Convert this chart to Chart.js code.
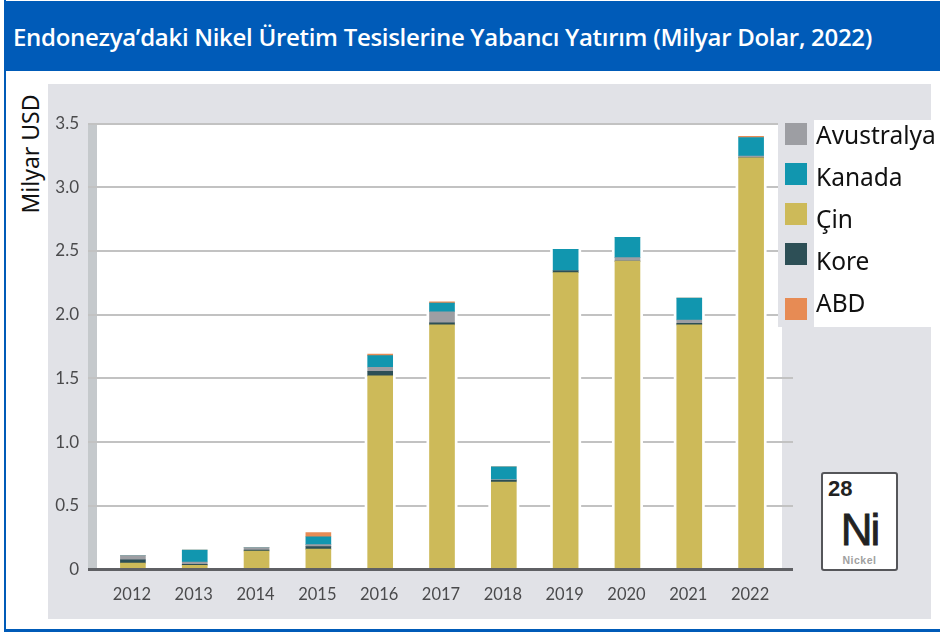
<!DOCTYPE html>
<html lang="tr">
<head>
<meta charset="utf-8">
<title>Endonezya Nikel Yatırım</title>
<script src="https://cdn.jsdelivr.net/npm/chart.js@4"></script>
<style>
  html, body { margin: 0; padding: 0; background: #fff; }
  #page { position: relative; width: 940px; height: 632px; overflow: hidden; background: #fff; }
  #page div { position: absolute; }
  #sol-cizgi { left: 4px; top: 0; width: 2px; height: 632px; background: #005bb8; }
  #alt-cizgi { left: 4px; top: 629px; width: 936px; height: 3px; background: #005bb8; }
  #baslik { left: 4px; top: 1px; width: 936px; height: 70px; background: #005bb8; color: #fff;
            font: 600 24px/72px "Open Sans", sans-serif; letter-spacing: -0.3px; padding-left: 9px; box-sizing: border-box; white-space: nowrap; }
  #panel { left: 48px; top: 84px; width: 883px; height: 535px; background: #e1e2e7; }
  #beyaz { left: 88px; top: 123px; width: 694px; height: 446px; background: #fff; }
  #serit { left: 88px; top: 123px; width: 9px; height: 446px; background: #c5c9cc; }
  #eksen { left: 30px; top: 154px; transform: translate(-50%, -50%) rotate(-90deg); color: #111;
           font: 23px "Noto Sans", sans-serif; white-space: nowrap; }
  canvas { position: absolute; left: 0; top: 0; }
  #lejant-zemin { left: 778px; top: 120px; width: 36px; height: 207px; background: #e1e2e7; }
  #lejant-beyaz { left: 814px; top: 120px; width: 126px; height: 207px; background: #fff; }
  .kutu { left: 785px; width: 22px; height: 22px; }
  .etiket { left: 816px; color: #111; font: 24.5px/30px "Noto Sans", sans-serif; white-space: nowrap; }
  #kart { left: 821px; top: 472px; width: 73px; height: 95px; background: #fff; border: 2px solid #55565a; border-radius: 3px; }
  #kart div { font-family: "Liberation Sans", sans-serif; }
  #kart-no { left: 5px; top: 2px; font-size: 22px; font-weight: bold; color: #222; }
  #kart-sim { left: 0; width: 73px; top: 31px; text-align: center; font-size: 44px; letter-spacing: -2px; -webkit-text-stroke: 0.8px #222; color: #222; }
  #kart-ad { left: 0; width: 73px; top: 80px; text-align: center; font-size: 10.5px; letter-spacing: 0.5px; font-weight: bold; color: #a0a0a0; }
</style>
</head>
<body>
<div id="page">
  <div id="sol-cizgi"></div>
  <div id="alt-cizgi"></div>
  <div id="baslik">Endonezya’daki Nikel Üretim Tesislerine Yabancı Yatırım (Milyar Dolar, 2022)</div>
  <div id="panel"></div>
  <div id="beyaz"></div>
  <div id="serit"></div>
  <div id="eksen">Milyar USD</div>
  <canvas id="grafik" width="940" height="632"></canvas>
  <div id="lejant-zemin"></div>
  <div id="lejant-beyaz"></div>
  <div id="kart">
    <div id="kart-no">28</div>
    <div id="kart-sim">Ni</div>
    <div id="kart-ad">Nickel</div>
  </div>
</div>
<script>
// ========== DATOS ==========
const yillar = ['2012', '2013', '2014', '2015', '2016', '2017', '2018', '2019', '2020', '2021', '2022'];
const cin = [0.05, 0.033, 0.145, 0.16, 1.52, 1.92, 0.687, 2.33, 2.42, 1.92, 3.23];
const kore = [0.025, 0.007, 0.008, 0.02, 0.036, 0.015, 0.013, 0.013, 0, 0.012, 0];
const avustralya = [0.033, 0.019, 0.018, 0.015, 0.031, 0.088, 0.005, 0, 0.027, 0.026, 0.015];
const kanada = [0, 0.094, 0, 0.062, 0.091, 0.067, 0.1, 0.17, 0.16, 0.171, 0.145];
const abd = [0, 0, 0, 0.032, 0.012, 0.01, 0, 0, 0, 0, 0.01];
const yEtiketleri = [0, 0.5, 1, 1.5, 2, 2.5, 3, 3.5];

// Orden de la leyenda y posición vertical de cada fila
const lejantSirasi = ['Avustralya', 'Kanada', 'Çin', 'Kore', 'ABD'];
const lejantKutuY = [123, 163, 203, 243, 298];
const lejantYaziY = [120, 162, 204, 246, 288];

const gridRengi = ctx => ctx.tick && ctx.tick.value === 0 ? '#5f6064' : '#c2c2c2';
const gridKalinlik = ctx => ctx.tick && ctx.tick.value === 0 ? 3 : 2;

// ========== PLUGIN: hueco blanco alrededor de las barras ==========
const halo = {
    id: 'halo',
    beforeDatasetsDraw(chart) {
        const ctx = chart.ctx;
        const y = chart.scales.y;
        ctx.save();
        ctx.fillStyle = '#fff';
        yillar.forEach((_, i) => {
            const bar = chart.getDatasetMeta(0).data[i];
            const toplam = chart.data.datasets.reduce((t, d) => t + d.data[i], 0);
            const tepe = y.getPixelForValue(toplam);
            ctx.fillRect(bar.x - bar.width / 2 - 3, tepe - 1, bar.width + 6, y.bottom - tepe + 1);
        });
        ctx.restore();
    }
};

// ========== GRÁFICO ==========
const grafik = new Chart(document.getElementById('grafik').getContext('2d'), {
    type: 'bar',
    data: {
        labels: yillar,
        datasets: [
            { label: 'Çin', data: cin, backgroundColor: '#cdba59' },
            { label: 'Kore', data: kore, backgroundColor: '#2d4f56' },
            { label: 'Avustralya', data: avustralya, backgroundColor: '#9d9ea3' },
            { label: 'Kanada', data: kanada, backgroundColor: '#1196af' },
            { label: 'ABD', data: abd, backgroundColor: '#e78b54' }
        ]
    },
    plugins: [halo],
    options: {
        responsive: false,
        animation: false,
        layout: { padding: { top: 123.5 } },
        datasets: { bar: { barThickness: 25 } },
        plugins: { legend: { display: false }, tooltip: { enabled: false } },
        scales: {
            x: {
                stacked: true,
                afterFit(scale) { scale.height = 62.5; },
                grid: { display: false },
                border: { color: '#5f6064', width: 3, z: 1 },
                ticks: { color: '#4a4a4c', padding: 7, labelOffset: -1, font: { family: 'Lato', size: 16.5 }, maxRotation: 0 }
            },
            y: {
                stacked: true,
                min: 0,
                max: 3.5,
                afterFit(scale) { scale.width = 102; },
                afterBuildTicks(scale) { scale.ticks = yEtiketleri.map(v => ({ value: v })); },
                border: { display: false },
                grid: { color: gridRengi, lineWidth: gridKalinlik, tickLength: 14 },
                ticks: {
                    color: '#4a4a4c',
                    padding: 9,
                    font: { family: 'Lato', size: 17 },
                    callback: v => v === 0 ? '0' : v.toFixed(1)
                }
            },
            // Eje derecho: solo prolonga las líneas hasta x=792
            y2: {
                position: 'right',
                min: 0,
                max: 3.5,
                afterFit(scale) { scale.width = 158; },
                afterBuildTicks(scale) { scale.ticks = yEtiketleri.map(v => ({ value: v })); },
                border: { display: false },
                grid: { color: gridRengi, lineWidth: gridKalinlik, drawOnChartArea: false, tickLength: 11 },
                ticks: { display: false }
            }
        }
    }
});

// ========== LEYENDA ==========
const sayfa = document.getElementById('page');
lejantSirasi.forEach((ad, i) => {
    const veri = grafik.data.datasets.find(d => d.label === ad);
    const kutu = document.createElement('div');
    kutu.className = 'kutu';
    kutu.style.top = lejantKutuY[i] + 'px';
    kutu.style.background = veri.backgroundColor;
    sayfa.appendChild(kutu);
    const yazi = document.createElement('div');
    yazi.className = 'etiket';
    yazi.style.top = lejantYaziY[i] + 'px';
    yazi.textContent = ad;
    sayfa.appendChild(yazi);
});
</script>
</body>
</html>
